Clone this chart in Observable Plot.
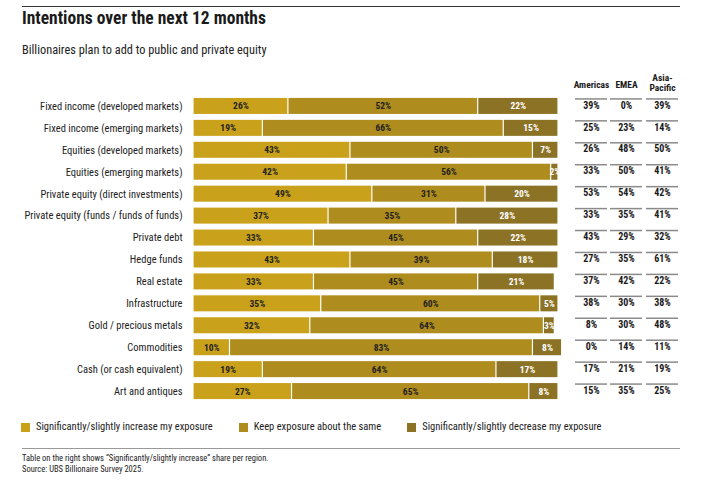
<!DOCTYPE html>
<html>
<head>
<meta charset="utf-8">
<script src="https://cdn.jsdelivr.net/npm/d3@7"></script>
<script src="https://cdn.jsdelivr.net/npm/@observablehq/plot@0.6"></script>
<style>
  html, body { margin: 0; padding: 0; background: #fff; }
  #wrap { position: relative; width: 701px; height: 483px; overflow: hidden;
    font-family: "Liberation Sans Narrow", "Arial Narrow", "Roboto Condensed", "DejaVu Sans Condensed", "Open Sans", sans-serif; color: #222; }
  .abs { position: absolute; }
  #main svg { display: block; }
  #toprule { left: 22px; top: 6px; width: 658px; border-top: 1.5px solid #333; }
  #title { left: 22px; top: 8px; font-size: 17.5px; font-weight: bold; line-height: 20px; color: #1a1a1a; }
  #subtitle { left: 22px; top: 43px; font-size: 12.3px; line-height: 14px; }
  #legend { left: 21px; top: 420px; font-size: 10.5px; line-height: 14px; display: flex; }
  .item { display: flex; align-items: center; margin-right: 26px; }
  .sw { width: 9px; height: 9px; margin-right: 6px; }
  #botrule { left: 22px; top: 448px; width: 658px; border-top: 1px solid #999; }
  #foot { left: 22px; top: 453px; font-size: 8.5px; line-height: 10.5px; }
</style>
</head>
<body>
<div id="wrap">
  <div id="toprule" class="abs"></div>
  <div id="title" class="abs">Intentions over the next 12 months</div>
  <div id="subtitle" class="abs">Billionaires plan to add to public and private equity</div>
  <div id="main" class="abs" style="left:0;top:62px;width:701px;"></div>
  <div id="legend" class="abs"></div>
  <div id="botrule" class="abs"></div>
  <div id="foot" class="abs">Table on the right shows “Significantly/slightly increase” share per region.<br>Source: UBS Billionaire Survey 2025.</div>
</div>
<script>
const categories = [
  "Fixed income (developed markets)",
  "Fixed income (emerging markets)",
  "Equities (developed markets)",
  "Equities (emerging markets)",
  "Private equity (direct investments)",
  "Private equity (funds / funds of funds)",
  "Private debt",
  "Hedge funds",
  "Real estate",
  "Infrastructure",
  "Gold / precious metals",
  "Commodities",
  "Cash (or cash equivalent)",
  "Art and antiques"
];
const increase = [26, 19, 43, 42, 49, 37, 33, 43, 33, 35, 32, 10, 19, 27];
const same     = [52, 66, 50, 56, 31, 35, 45, 39, 45, 60, 64, 83, 64, 65];
const decrease = [22, 15,  7,  2, 20, 28, 22, 18, 21,  5,  3,  8, 17,  8];

const seriesNames = [
  "Significantly/slightly increase my exposure",
  "Keep exposure about the same",
  "Significantly/slightly decrease my exposure"
];
const seriesColors = ["#c9a11b", "#ae8c1e", "#8b7225"];
const labelColors = ["#222", "#222", "#fff"];

const regions = ["Americas", "EMEA", "Asia-Pacific"];
const regionHeaders = ["Americas", "EMEA", "Asia-\nPacific"];
const americas    = [39, 25, 26, 33, 53, 33, 43, 27, 37, 38,  8,  0, 17, 15];
const emea        = [ 0, 23, 48, 50, 54, 35, 29, 35, 42, 30, 30, 14, 21, 35];
const asiaPacific = [39, 14, 50, 41, 42, 41, 32, 61, 22, 38, 48, 11, 19, 25];

// layout: table column centres, in px to the right of the 100% edge of the bars
const colOffsets = [33, 68, 104];
const headerDy = [-5, -5, -2];
const colHalfWidth = 16;

const seriesValues = [increase, same, decrease];
const barRows = [];
categories.forEach((c, i) => {
  seriesValues.forEach((vals, s) => {
    barRows.push({category: c, series: seriesNames[s], order: s, value: vals[i]});
  });
});
const regionValues = [americas, emea, asiaPacific];

const FONT = "'Liberation Sans Narrow', 'Arial Narrow', 'Roboto Condensed', 'DejaVu Sans Condensed', 'Open Sans', sans-serif";

const tableMarks = [];
regions.forEach((r, k) => {
  const rows = categories.map((c, i) => ({category: c, region: r, value: regionValues[k][i]}));
  const off = colOffsets[k];
  tableMarks.push(
    Plot.ruleY(rows, {y: "category", x1: 100, x2: 100, dy: -7.5,
      insetLeft: off - colHalfWidth, insetRight: -(off + colHalfWidth),
      stroke: "#8a8a8a", strokeWidth: 1.5}),
    Plot.text(rows, {y: "category", frameAnchor: "right", dx: off, textAnchor: "middle",
      text: d => d.value + "%", fontWeight: "bold", fontSize: 10, dy: -1, fill: "#1a1a1a"}),
    Plot.text([regionHeaders[k]], {frameAnchor: "top-right", dx: off, dy: headerDy[k], textAnchor: "middle",
      lineAnchor: "bottom", text: d => d, fontWeight: "bold", fontSize: 9.5, fill: "#1a1a1a"})
  );
});

const main = Plot.plot({
  width: 701, height: 348,
  marginLeft: 193, marginRight: 143, marginTop: 30, marginBottom: 5,
  style: {fontFamily: FONT, fontSize: "10.5px", color: "#222", background: "transparent"},
  x: {domain: [0, 100], axis: null},
  y: {domain: categories, padding: 0.27, round: false, label: null},
  color: {domain: seriesNames, range: seriesColors},
  marks: [
    Plot.barX(barRows, Plot.stackX({x: "value", y: "category", fill: "series", order: "order", insetLeft: 0.6, insetRight: 0.6})),
    Plot.text(barRows, Plot.stackX({x: "value", y: "category", z: "series", order: "order",
      text: d => d.value + "%", fill: d => labelColors[d.order], fontWeight: "bold", fontSize: 9.5})),
    Plot.axisY({tickSize: 0, tickPadding: 11, fontSize: 10.5, label: null}),
    Plot.ruleX([0], {y1: categories[0], y2: categories[categories.length - 1], stroke: "#222", strokeWidth: 1.5}),
    ...tableMarks
  ]
});
document.getElementById("main").appendChild(main);

const legend = document.getElementById("legend");
seriesNames.forEach((n, i) => {
  const it = document.createElement("div");
  it.className = "item";
  it.innerHTML = `<span class="sw" style="background:${seriesColors[i]}"></span><span>${n}</span>`;
  legend.appendChild(it);
});
</script>
</body>
</html>
